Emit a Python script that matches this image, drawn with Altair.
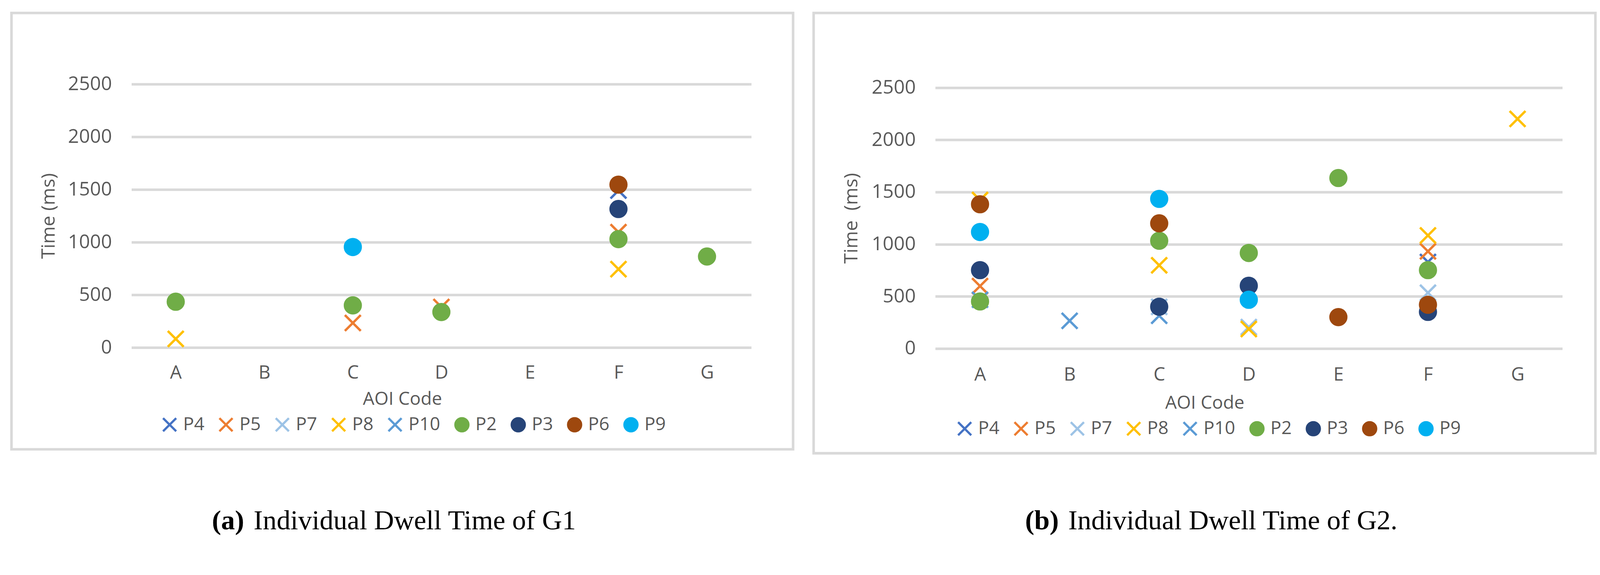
import altair as alt
import pandas as pd

categories = ["A", "B", "C", "D", "E", "F", "G"]
series = ["P4", "P5", "P7", "P8", "P10", "P2", "P3", "P6", "P9"]
colors = ["#4472C4", "#ED7D31", "#9DC3E6", "#FFC000", "#5B9BD5",
          "#70AD47", "#264478", "#9E480E", "#00B0F0"]
X_PATH = "M-1,-1L1,1M-1,1L1,-1"
shapes = [X_PATH] * 5 + ["circle"] * 4
y_ticks = [0, 500, 1000, 1500, 2000, 2500]

# G1 values per series, aligned with categories A..G (None = no point)
g1_P4 = [None, None, None, None, None, 1490, None]
g1_P5 = [None, None, 233, 385, None, 1095, None]
g1_P7 = [None, None, None, None, None, None, None]
g1_P8 = [82, None, None, None, None, 744, None]
g1_P10 = [None, None, None, None, None, None, None]
g1_P2 = [435, None, 400, 337, None, 1029, 864]
g1_P3 = [None, None, None, None, None, 1315, None]
g1_P6 = [None, None, None, None, None, 1546, None]
g1_P9 = [None, None, 954, None, None, None, None]

# G2 values per series
g2_P4 = [None, None, None, None, None, 830, None]
g2_P5 = [599, None, None, None, None, 932, None]
g2_P7 = [None, None, 400, 206, None, 535, None]
g2_P8 = [1423, None, 798, 188, None, 1084, 2200]
g2_P10 = [468, 266, 315, None, None, None, None]
g2_P2 = [452, None, 1033, 916, 1634, 752, None]
g2_P3 = [752, None, 401, 602, None, 352, None]
g2_P6 = [1383, None, 1200, None, 302, 420, None]
g2_P9 = [1117, None, 1434, 468, None, None, None]

FONT = "Open Sans"
SERIF = "Liberation Serif"
TXT = "#595959"
GRID = "#D9D9D9"


def build_df(cols):
    rows = []
    for s, vals in zip(series, cols):
        for c, v in zip(categories, vals):
            if v is not None:
                rows.append({"aoi": c, "time": v, "series": s})
    return pd.DataFrame(rows)


df1 = build_df([g1_P4, g1_P5, g1_P7, g1_P8, g1_P10, g1_P2, g1_P3, g1_P6, g1_P9])
df2 = build_df([g2_P4, g2_P5, g2_P7, g2_P8, g2_P10, g2_P2, g2_P3, g2_P6, g2_P9])


def panel(df, w, h, ytop, box, ytitle, ytitle_x, xlab_pad, xtitle_x, xtitle_y,
          leg_x, leg_y, letter, caption, cap_x, cap_y):
    legend = alt.Legend(
        orient="none", legendX=leg_x, legendY=leg_y, direction="horizontal",
        title=None, symbolSize=1300, symbolStrokeWidth=6, labelOffset=12,
        columnPadding=28, labelFont=FONT, labelFontSize=50, labelColor=TXT,
    )
    points = alt.Chart(df).mark_point(
        filled=True, size=1900, strokeWidth=6.5, opacity=1
    ).encode(
        x=alt.X("aoi:N", scale=alt.Scale(domain=categories),
                axis=alt.Axis(grid=False, domain=False, ticks=False, tickSize=0,
                              labelAngle=0, labelPadding=xlab_pad, labelFont=FONT,
                              labelFontSize=51, labelColor=TXT, title="AOI Code",
                              titleFont=FONT, titleFontSize=50, titleFontWeight="normal",
                              titleColor=TXT, titleX=xtitle_x, titleY=xtitle_y,
                              titleBaseline="middle", titleAlign="center")),
        y=alt.Y("time:Q", scale=alt.Scale(domain=[0, 2500], nice=False, range=[h, ytop]),
                axis=alt.Axis(values=y_ticks, format="d", grid=True, gridColor=GRID,
                              gridWidth=7, domain=False, ticks=False, tickSize=0,
                              labelPadding=54, labelFont=FONT, labelFontSize=53,
                              labelColor=TXT, title=ytitle, titleFont=FONT,
                              titleFontSize=52, titleFontWeight="normal", titleColor=TXT,
                              titleX=ytitle_x, titleY=(h + ytop) / 2, titleAngle=270,
                              titleBaseline="middle", titleAlign="center")),
        fill=alt.Fill("series:N", scale=alt.Scale(domain=series, range=colors), legend=legend),
        stroke=alt.Stroke("series:N", scale=alt.Scale(domain=series, range=colors), legend=legend),
        shape=alt.Shape("series:N", scale=alt.Scale(domain=series, range=shapes), legend=legend),
    )
    one = pd.DataFrame({"k": [0]})
    border = alt.Chart(one).mark_rect(
        fillOpacity=0, stroke=GRID, strokeWidth=7
    ).encode(x=alt.value(box[0]), x2=alt.value(box[1]),
             y=alt.value(box[2]), y2=alt.value(box[3]))
    cap_a = alt.Chart(one).mark_text(
        text=letter, font=SERIF, fontSize=76, fontWeight="bold", color="black",
        align="right", baseline="alphabetic"
    ).encode(x=alt.value(cap_x[0]), y=alt.value(cap_y))
    cap_b = alt.Chart(one).mark_text(
        text=caption, font=SERIF, fontSize=76, color="black",
        align="left", baseline="alphabetic"
    ).encode(x=alt.value(cap_x[1]), y=alt.value(cap_y))
    return alt.layer(border, points, cap_a, cap_b).properties(width=w, height=h)


p1 = panel(df1, 1705, 725, 0, (-330, 1820, -196, 1005), "Time (ms)", -228, 45,
           745, 142, 80, 912, "(a)", "Individual Dwell Time of G1", (310, 336), 1225)
p2 = panel(df2, 1725, 728, 9.5, (-334.5, 1816, -196, 1016), "Time\u00a0\u00a0(ms)", -231, 48,
           741, 150, 56, 923, "(b)", "Individual Dwell Time of G2.", (340, 366), 1225)

chart = alt.hconcat(p1, p2, spacing=49).resolve_scale(
    x="independent", y="independent", fill="independent",
    stroke="independent", shape="independent"
).resolve_legend(
    fill="independent", stroke="independent", shape="independent"
).properties(
    padding={"left": 19, "top": -29.5, "right": 0, "bottom": 0}, background="white"
).configure_view(strokeWidth=0)

chart.save("out.html", embed_options={"renderer": "svg", "actions": False})
